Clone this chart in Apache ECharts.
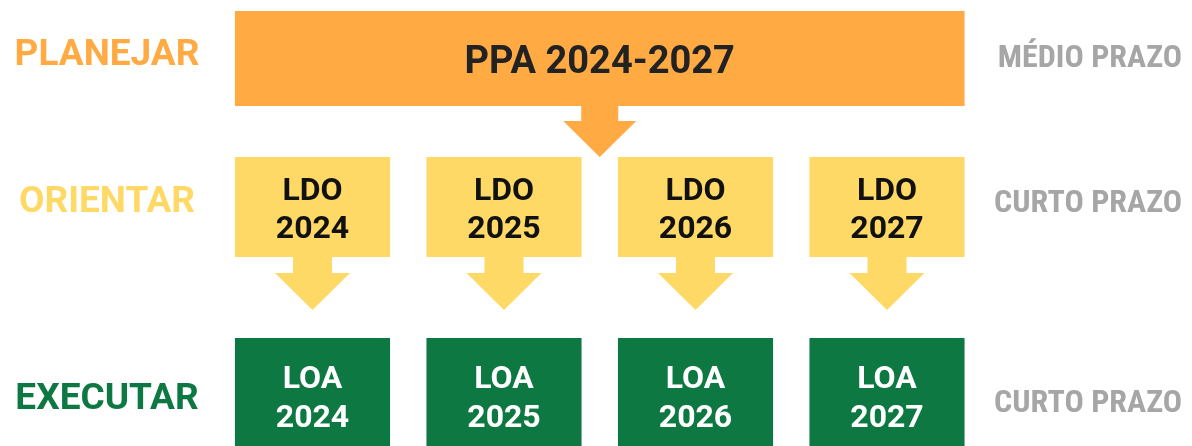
<!DOCTYPE html>
<html>
<head>
<meta charset="utf-8">
<script src="https://cdn.jsdelivr.net/npm/echarts@6/dist/echarts.min.js"></script>
<style>
  html, body { margin: 0; padding: 0; background: #ffffff; }
  #chart { width: 1192px; height: 446px; }
</style>
</head>
<body>
<div id="chart"></div>
<script>
// ---------- data ----------
const years = ['2024', '2025', '2026', '2027'];
const stageNames = ['PLANEJAR', 'ORIENTAR', 'EXECUTAR'];
const horizons = ['MÉDIO PRAZO', 'CURTO PRAZO', 'CURTO PRAZO'];
const ppaLabel = 'PPA 2024-2027';
const ldoPrefix = 'LDO';
const loaPrefix = 'LOA';

const ppaTexts = [ppaLabel];
const ldoTexts = years.map(y => ldoPrefix + '\n' + y);
const loaTexts = years.map(y => loaPrefix + '\n' + y);

// ---------- styles / layout ----------
const stageColors = ['#FFAA42', '#FFD966', '#0E7843'];
const boxTextColors = ['#222222', '#111111', '#ffffff'];
const horizonColor = '#A6A6A6';
const FONT = 'Roboto, "Noto Sans", sans-serif';
const COND = '"Roboto Condensed", "Liberation Sans Narrow", "DejaVu Sans Condensed", Roboto, sans-serif';

// vertical bands (y axis units, top-down)
const rows = [
  { top: 11,  bottom: 106, text: 63.5, lh: 40, labelY: 55.5, horizonY: 58.5, shaftEnd: 121, tip: 157, shaftHalf: 18.5, headHalf: 36.5 },
  { top: 157, bottom: 257, text: 211,  lh: 38, labelY: 202.5, horizonY: 203.5, shaftEnd: 273, tip: 310, shaftHalf: 19.5, headHalf: 37.5 },
  { top: 338, bottom: 446, text: 399,  lh: 39, labelY: 399.5, horizonY: 403.5 }
];
const boxHalf = 0.405;   // half box width in column units

function makeRender(rowIdx, spanHalf, withArrow, fontSize, texts) {
  const r = rows[rowIdx];
  return function (params, api) {
    const c = api.value(0);
    const tl = api.coord([c - spanHalf, r.top]);
    const br = api.coord([c + spanHalf, r.bottom]);
    const mid = api.coord([c, r.text]);
    const children = [{
      type: 'rect',
      shape: { x: tl[0], y: tl[1], width: br[0] - tl[0], height: br[1] - tl[1] },
      style: { fill: stageColors[rowIdx] }
    }];
    if (withArrow) {
      const cx = mid[0];
      const y0 = br[1] - 1;
      const ys = api.coord([c, r.shaftEnd])[1];
      const yt = api.coord([c, r.tip])[1];
      const pts = [
        [cx - r.shaftHalf, y0], [cx + r.shaftHalf, y0],
        [cx + r.shaftHalf, ys], [cx + r.headHalf, ys],
        [cx, yt], [cx - r.headHalf, ys], [cx - r.shaftHalf, ys]
      ];
      children.push({ type: 'polygon', shape: { points: pts }, style: { fill: stageColors[rowIdx] } });
    }
    children.push({
      type: 'text',
      style: {
        text: texts[params.dataIndex],
        x: mid[0], y: mid[1],
        align: 'center', verticalAlign: 'middle',
        font: 'bold ' + fontSize + 'px ' + FONT,
        lineHeight: r.lh,
        fill: boxTextColors[rowIdx]
      }
    });
    return { type: 'group', children: children };
  };
}

function labelRender(params, api) {
  const i = params.dataIndex;
  const r = rows[i];
  const yL = api.coord([0, r.labelY])[1];
  const yR = api.coord([0, r.horizonY])[1];
  return {
    type: 'group',
    children: [
      { type: 'text', style: { text: stageNames[i], x: 107, y: yL, align: 'center', verticalAlign: 'middle',
          font: 'bold 37px ' + FONT, fill: stageColors[i] } },
      { type: 'text', style: { text: horizons[i], x: api.getWidth() - 10, y: yR, align: 'right', verticalAlign: 'middle',
          font: 'bold 32px ' + COND, fill: horizonColor } }
    ]
  };
}

const chart = echarts.init(document.getElementById('chart'), null, { renderer: 'canvas' });
chart.setOption({
  backgroundColor: '#ffffff',
  animation: false,
  grid: { left: 216.75, width: 766, top: 0, height: 446 },
  xAxis: { type: 'value', min: -0.5, max: 3.5, show: false },
  yAxis: { type: 'value', min: 0, max: 446, inverse: true, show: false },
  series: [
    {
      type: 'custom', name: 'PPA', clip: false,
      renderItem: makeRender(0, 1.5 + boxHalf, true, 38, ppaTexts),
      data: [[1.5, 0]]
    },
    {
      type: 'custom', name: 'LDO', clip: false,
      renderItem: makeRender(1, boxHalf, true, 32, ldoTexts),
      data: years.map((y, i) => [i, 1])
    },
    {
      type: 'custom', name: 'LOA', clip: false,
      renderItem: makeRender(2, boxHalf, false, 32, loaTexts),
      data: years.map((y, i) => [i, 2])
    },
    {
      type: 'custom', name: 'labels', clip: false,
      renderItem: labelRender,
      data: stageNames.map((s, i) => [0, i])
    }
  ]
});
</script>
</body>
</html>
